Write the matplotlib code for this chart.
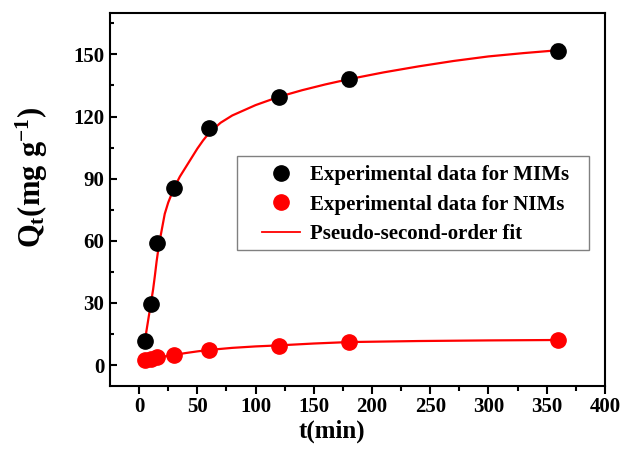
import numpy as np
import matplotlib
matplotlib.use('Agg')
import matplotlib.pyplot as plt
from matplotlib.lines import Line2D
from matplotlib.patches import Rectangle

plt.rcParams['font.family'] = ['Liberation Serif', 'DejaVu Serif']
plt.rcParams['font.weight'] = 'bold'
plt.rcParams['mathtext.fontset'] = 'custom'
plt.rcParams['mathtext.rm'] = 'Liberation Serif:bold'
plt.rcParams['mathtext.it'] = 'Liberation Serif:bold'
plt.rcParams['mathtext.bf'] = 'Liberation Serif:bold'

#----- data
t_exp = [5, 10, 15, 30, 60, 120, 180, 360]
q_mims = [11.7, 29.5, 59.0, 85.5, 114.3, 129.5, 138.0, 151.6]
err_mims = [1.0, 1.0, 1.5, 1.5, 2.0, 2.5, 3.5, 3.5]
q_nims = [2.3, 3.0, 3.7, 4.9, 7.4, 9.4, 11.2, 12.1]

# fitted curves
t_fit_mims = [5, 6, 8, 10, 12, 13.5, 15, 17, 20, 22, 25, 30, 35, 40, 45, 50, 55, 60,
              70, 80, 90, 100, 110, 120, 140, 160, 180, 210, 240, 270, 300, 330, 360]
q_fit_mims = [12, 15.5, 22.5, 29.5, 36.5, 43, 50, 58, 67, 73, 78.5, 85.5, 91, 95.5,
              100, 104.5, 108.5, 112, 117, 120.5, 123, 125.5, 127.5, 129.5, 132.7,
              135.5, 138, 141.3, 144.2, 146.8, 149, 150.6, 152]
t_fit_nims = [5, 10, 15, 20, 30, 40, 50, 60, 80, 100, 120, 150, 180, 240, 300, 360]
q_fit_nims = [2.3, 3.0, 3.6, 4.0, 4.9, 5.8, 6.6, 7.3, 8.3, 9.0, 9.5, 10.4, 11.1,
              11.6, 11.9, 12.1]

xticks = [0, 50, 100, 150, 200, 250, 300, 350, 400]
yticks = [0, 30, 60, 90, 120, 150]

#----- plotting
fig = plt.figure(figsize=(6.36, 4.62), dpi=100)
ax = fig.add_axes([0.173, 0.165, 0.778, 0.807])

ax.plot(t_fit_mims, q_fit_mims, color='red', lw=1.6, zorder=3)
ax.plot(t_fit_nims, q_fit_nims, color='red', lw=1.6, zorder=3)
ax.errorbar(t_exp, q_mims, yerr=err_mims, fmt='o', color='black', ms=11,
            elinewidth=1.2, capsize=3, zorder=4)
ax.plot(t_exp, q_nims, 'o', color='red', ms=11, zorder=4)

ax.set_xlim(-25, 400)
ax.set_ylim(-10, 170)
ax.set_xticks(xticks)
ax.set_yticks(yticks)
ax.set_xticks(np.arange(25, 400, 50), minor=True)
ax.set_yticks(np.arange(15, 170, 30), minor=True)
ax.tick_params(axis='x', which='major', direction='out', length=6, width=1.5,
               labelsize=15, pad=2)
ax.tick_params(axis='x', which='minor', direction='out', length=3.5, width=1.5)
ax.tick_params(axis='y', which='major', direction='in', length=5, width=1.5,
               labelsize=15, pad=4)
ax.tick_params(axis='y', which='minor', direction='in', length=3, width=1.5)
for s in ax.spines.values():
    s.set_linewidth(1.5)

ax.set_xlabel('t(min)', fontsize=18, fontweight='bold')
ax.xaxis.set_label_coords(0.448, -0.09)
ax.set_ylabel(r'$\mathrm{Q_t(mg\ g^{-1})}$', fontsize=22)
ax.yaxis.set_label_coords(-0.121, 0.56)

# legend box drawn separately (wide left margin like the reference)
ax.add_patch(Rectangle((0.2566, 0.3646), 0.711, 0.252, transform=ax.transAxes,
                       facecolor='white', edgecolor='gray', lw=1.0, zorder=5))
handles = [
    Line2D([], [], ls='none', marker='o', color='black', ms=11),
    Line2D([], [], ls='none', marker='o', color='red', ms=11),
    Line2D([], [], color='red', lw=1.3),
]
labels = ['Experimental data for MIMs', 'Experimental data for NIMs',
          'Pseudo-second-order fit']
leg = ax.legend(handles, labels, loc='upper left', bbox_to_anchor=(0.291, 0.614),
                fontsize=15, frameon=False, handlelength=1.8, handletextpad=0.5,
                borderpad=0.4, labelspacing=0.45, borderaxespad=0)
leg.set_zorder(6)

plt.savefig('out.png', dpi=100)
